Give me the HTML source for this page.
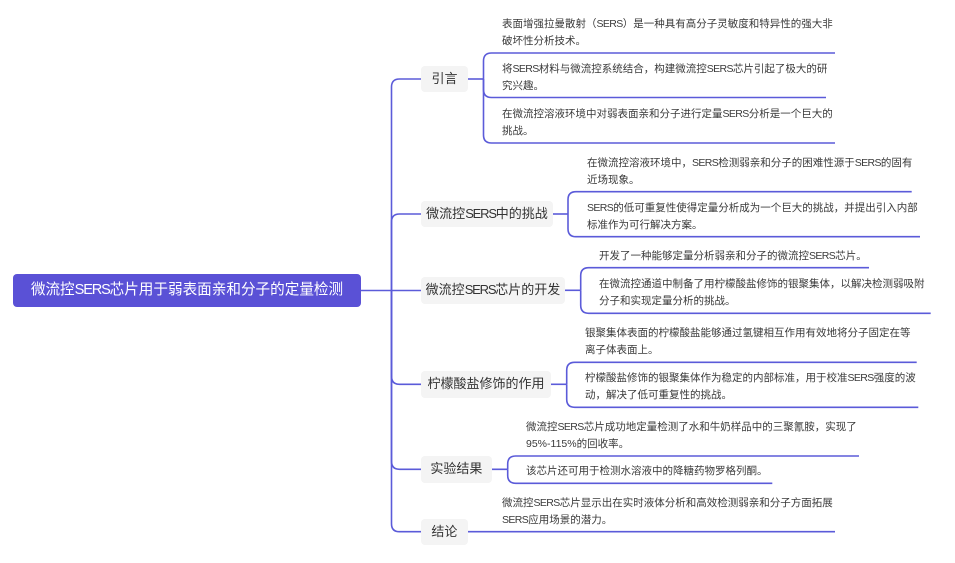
<!DOCTYPE html>
<html><head><meta charset="utf-8">
<style>
html,body{margin:0;padding:0;background:#fff;}
body{width:955px;height:563px;position:relative;overflow:hidden;font-family:"Liberation Sans","Noto Sans CJK SC",sans-serif;}
svg{position:absolute;left:0;top:0;}
.root{position:absolute;left:13px;top:273.5px;width:348px;height:33px;background:#5a51d6;border-radius:4px;color:#fff;font-size:14.6px;line-height:33px;text-align:center;white-space:nowrap;}
.br{position:absolute;left:421px;height:26.5px;background:#f4f4f4;border-radius:4px;color:#333;font-size:13px;line-height:26.5px;text-align:center;white-space:nowrap;}
.lf{position:absolute;font-size:10.5px;line-height:17px;color:#3a3a3a;white-space:nowrap;}
.s{letter-spacing:-0.6px;}
.root .s,.br .s{letter-spacing:-1.2px;}
</style></head><body>
<svg width="955" height="563" viewBox="0 0 955 563">
<g fill="none" stroke="#5b5bd9" stroke-width="1.6">
<path d="M361,290.5 H421"/>
<path d="M391.5,290.5 V87 Q391.5,79 399.5,79 H421"/>
<path d="M391.5,290.5 V222 Q391.5,214 399.5,214 H421"/>
<path d="M391.5,290.5 V376.3 Q391.5,384.3 399.5,384.3 H421"/>
<path d="M391.5,290.5 V461.3 Q391.5,469.3 399.5,469.3 H421"/>
<path d="M391.5,290.5 V523.7 Q391.5,531.7 399.5,531.7 H421"/>
<path d="M468,79 H483.5"/>
<path d="M483.5,79 V61 Q483.5,53 491.5,53 H835"/>
<path d="M483.5,79 V89.5 Q483.5,97.5 491.5,97.5 H826"/>
<path d="M483.5,79 V135 Q483.5,143 491.5,143 H835"/>
<path d="M553,214 H568"/>
<path d="M568,214 V199.7 Q568,191.7 576,191.7 H911.7"/>
<path d="M568,214 V228.7 Q568,236.7 576,236.7 H920"/>
<path d="M565,290.3 H580.7"/>
<path d="M580.7,290.3 V275.7 Q580.7,267.7 588.7,267.7 H869"/>
<path d="M580.7,290.3 V305.3 Q580.7,313.3 588.7,313.3 H930.7"/>
<path d="M551,384.3 H566.7"/>
<path d="M566.7,384.3 V370.3 Q566.7,362.3 574.7,362.3 H916.7"/>
<path d="M566.7,384.3 V399.3 Q566.7,407.3 574.7,407.3 H918.3"/>
<path d="M491.7,469.3 H507.7"/>
<path d="M507.7,469.3 V464 Q507.7,456 515.7,456 H859"/>
<path d="M507.7,469.3 V475.3 Q507.7,483.3 515.7,483.3 H772.3"/>
<path d="M467.7,531.7 H835"/>
</g>
</svg>

<div class="root">微流控<span class="s">SERS</span>芯片用于弱表面亲和分子的定量检测</div>

<div class="br" style="top:65.75px;width:47px;">引言</div>
<div class="br" style="top:200.75px;width:132px;">微流控<span class="s">SERS</span>中的挑战</div>
<div class="br" style="top:277px;width:144px;">微流控<span class="s">SERS</span>芯片的开发</div>
<div class="br" style="top:371px;width:130px;">柠檬酸盐修饰的作用</div>
<div class="br" style="top:456px;width:70.7px;">实验结果</div>
<div class="br" style="top:518.5px;width:46.7px;">结论</div>

<div class="lf" style="left:502px;top:16px;">表面增强拉曼散射（<span class="s">SERS</span>）是一种具有高分子灵敏度和特异性的强大非<br>破坏性分析技术。</div>
<div class="lf" style="left:502px;top:60.5px;">将<span class="s">SERS</span>材料与微流控系统结合，构建微流控<span class="s">SERS</span>芯片引起了极大的研<br>究兴趣。</div>
<div class="lf" style="left:502px;top:106px;">在微流控溶液环境中对弱表面亲和分子进行定量<span class="s">SERS</span>分析是一个巨大的<br>挑战。</div>

<div class="lf" style="left:587px;top:154.7px;">在微流控溶液环境中，<span class="s">SERS</span>检测弱亲和分子的困难性源于<span class="s">SERS</span>的固有<br>近场现象。</div>
<div class="lf" style="left:587px;top:199.7px;"><span class="s">SERS</span>的低可重复性使得定量分析成为一个巨大的挑战，并提出引入内部<br>标准作为可行解决方案。</div>

<div class="lf" style="left:599px;top:247.7px;">开发了一种能够定量分析弱亲和分子的微流控<span class="s">SERS</span>芯片。</div>
<div class="lf" style="left:599px;top:276.3px;">在微流控通道中制备了用柠檬酸盐修饰的银聚集体，以解决检测弱吸附<br>分子和实现定量分析的挑战。</div>

<div class="lf" style="left:585px;top:325.3px;">银聚集体表面的柠檬酸盐能够通过氢键相互作用有效地将分子固定在等<br>离子体表面上。</div>
<div class="lf" style="left:585px;top:370.3px;">柠檬酸盐修饰的银聚集体作为稳定的内部标准，用于校准<span class="s">SERS</span>强度的波<br>动，解决了低可重复性的挑战。</div>

<div class="lf" style="left:526px;top:419px;">微流控<span class="s">SERS</span>芯片成功地定量检测了水和牛奶样品中的三聚氰胺，实现了<br>95%-115%的回收率。</div>
<div class="lf" style="left:526px;top:463.3px;">该芯片还可用于检测水溶液中的降糖药物罗格列酮。</div>

<div class="lf" style="left:502px;top:494.7px;">微流控<span class="s">SERS</span>芯片显示出在实时液体分析和高效检测弱亲和分子方面拓展<br><span class="s">SERS</span>应用场景的潜力。</div>
</body></html>
